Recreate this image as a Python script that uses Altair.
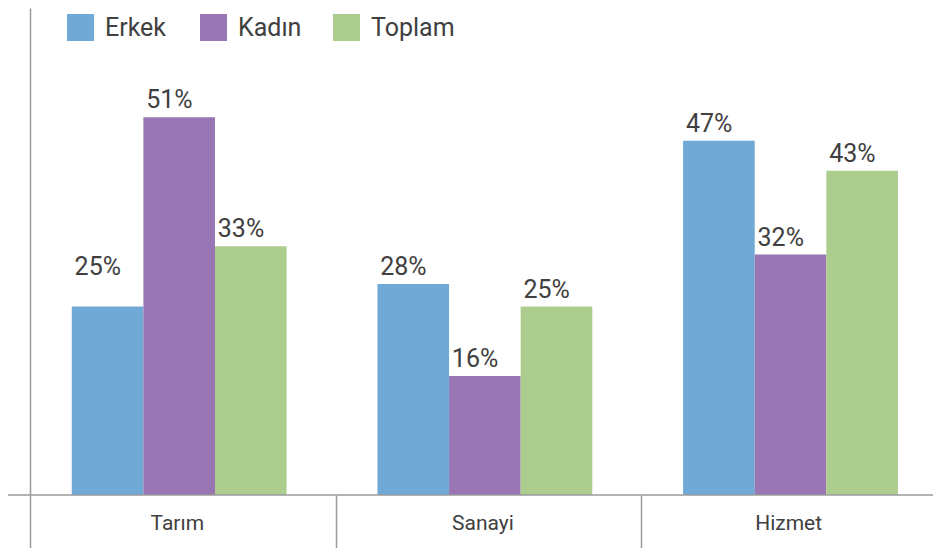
import altair as alt
import pandas as pd

categories = ["Tarım", "Sanayi", "Hizmet"]
series = ["Erkek", "Kadın", "Toplam"]
erkek = [25, 28, 47]
kadin = [50.1, 15.8, 31.9]
toplam = [33, 25, 43]
erkek_labels = ["25%", "28%", "47%"]
kadin_labels = ["51%", "16%", "32%"]
toplam_labels = ["33%", "25%", "43%"]
colors = ["#70A8D6", "#9875B3", "#ADCD8F"]

rows = []
for s, vals, labs in zip(series, [erkek, kadin, toplam], [erkek_labels, kadin_labels, toplam_labels]):
    for c, v, l in zip(categories, vals, labs):
        rows.append({"cat": c, "series": s, "value": v, "label": l})
df = pd.DataFrame(rows)

W, H = 903, 487
FULL = 917
AX = "#9a9a9a"
TXT = "#404040"

x = alt.X(
    "cat:N", sort=categories,
    scale=alt.Scale(range=[0, FULL], paddingInner=0, paddingOuter=0),
    axis=alt.Axis(title=None, domain=False, ticks=True, tickBand="extent", tickSize=62,
                  tickColor=AX, tickWidth=1.5, labelPadding=-34, labelBaseline="middle",
                  labelFont="Roboto", labelFontSize=21, labelColor=TXT, labelAngle=0,
                  labelOffset=-6, grid=False),
)
xo = alt.XOffset("series:N", sort=series,
                 scale=alt.Scale(paddingOuter=0.634, paddingInner=0, align=0.46))
y = alt.Y("value:Q", scale=alt.Scale(domain=[0, 64.6], nice=False, zero=True),
          axis=alt.Axis(title=None, labels=False, ticks=False, grid=False, domain=True,
                        domainColor=AX, domainWidth=1.5))
color = alt.Color(
    "series:N", sort=series, scale=alt.Scale(domain=series, range=colors),
    legend=alt.Legend(title=None, orient="none", legendX=37, legendY=6, direction="horizontal",
                      symbolType="square", symbolSize=729, symbolStrokeWidth=0, symbolOpacity=1,
                      labelFontSize=25, labelFont="Roboto", labelColor=TXT, labelOffset=11,
                      columnPadding=11, gridAlign="all", padding=0),
)

base = alt.Chart(df).encode(x=x, xOffset=xo, y=y)
bars = base.mark_bar().encode(color=color)
text_main = base.mark_text(align="left", baseline="alphabetic", dx=-33, dy=-9, font="Roboto",
                           fontSize=25, color=TXT).encode(text="label:N").transform_filter(
    "!(datum.cat == 'Tarım' && datum.series == 'Erkek')")
text_lift = base.mark_text(align="left", baseline="alphabetic", dx=-33, dy=-32, font="Roboto",
                           fontSize=25, color=TXT).encode(text="label:N").transform_filter(
    "datum.cat == 'Tarım' && datum.series == 'Erkek'")

baseline = alt.Chart(pd.DataFrame({"value": [0]})).mark_rule(color=AX, strokeWidth=1.5).encode(
    y=y, x=alt.value(-22), x2=alt.value(FULL))

chart = alt.layer(bars, baseline, text_main, text_lift).properties(
    width=W, height=H,
    autosize=alt.AutoSizeParams(type="none"),
    padding={"left": 22, "top": 0, "right": 0, "bottom": 53},
).configure(font="Roboto").configure_view(stroke="transparent", strokeWidth=0).configure_axis(grid=False)

chart.save("out.html", embed_options={"renderer": "svg", "actions": False})
